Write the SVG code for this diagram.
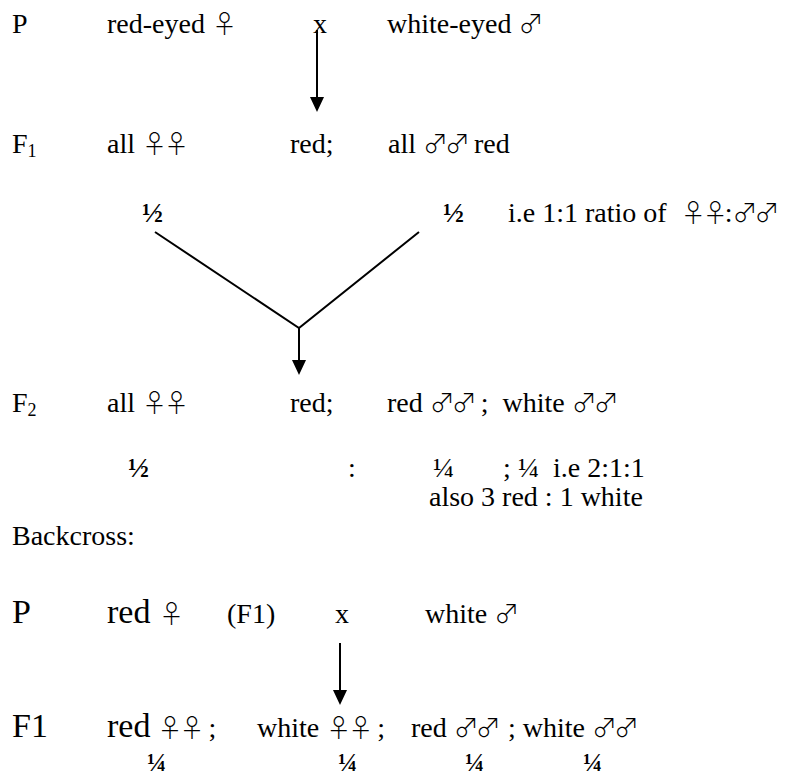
<svg xmlns="http://www.w3.org/2000/svg" width="786" height="779" viewBox="0 0 786 779">
<style>
text{font-family:"Liberation Serif","Times New Roman",serif;font-size:28px;fill:#000}
.b{font-weight:bold}
.big{font-size:34px}
.sub{font-size:18px}
.q{font-size:26px}
.sym{font-family:"Noto Sans CJK JP","DejaVu Sans",sans-serif;font-size:25px;font-weight:300;letter-spacing:-3px}
.ln{stroke:#000;stroke-width:2;fill:none}
</style>
<rect width="786" height="779" fill="#fff"/>
<g id="row-p1">
<text x="12" y="33">P</text>
<text x="107" y="33">red-eyed <tspan class="sym">♀</tspan></text>
<text x="313" y="33">x</text>
<text x="387" y="33">white-eyed <tspan class="sym">♂</tspan></text>
</g>
<g id="row-f1">
<text x="12" y="153">F<tspan class="sub" dy="4">1</tspan></text>
<text x="107" y="153">all <tspan class="sym">♀♀</tspan></text>
<text x="290" y="153">red;</text>
<text x="388" y="153">all <tspan class="sym">♂♂</tspan> red</text>
</g>
<g id="row-half">
<text class="b" x="142" y="222">½</text>
<text class="b" x="443" y="222">½</text>
<text x="508" y="222" xml:space="preserve">i.e 1:1 ratio of  <tspan class="sym">♀♀</tspan>:<tspan class="sym">♂♂</tspan></text>
</g>
<g id="row-f2">
<text x="12" y="412">F<tspan class="sub" dy="4">2</tspan></text>
<text x="107" y="412">all <tspan class="sym">♀♀</tspan></text>
<text x="290" y="412">red;</text>
<text x="387" y="412" xml:space="preserve">red <tspan class="sym">♂♂</tspan> ;  white <tspan class="sym">♂♂</tspan></text>
</g>
<g id="row-ratio">
<text class="b" x="128" y="477">½</text>
<text x="348" y="477">:</text>
<text x="433" y="477">¼</text>
<text x="503" y="477">;</text>
<text x="518" y="477" xml:space="preserve">¼  i.e 2:1:1</text>
<text x="429" y="506">also 3 red : 1 white</text>
</g>
<g id="backcross">
<text x="12" y="545">Backcross:</text>
</g>
<g id="row-p2">
<text class="big" x="12" y="623">P</text>
<text class="big" x="107" y="623">red <tspan class="sym">♀</tspan></text>
<text x="227" y="623">(F1)</text>
<text x="335" y="623">x</text>
<text x="425" y="623">white <tspan class="sym">♂</tspan></text>
</g>
<g id="row-f1b">
<text class="big" x="12" y="737">F1</text>
<text x="107" y="737" xml:space="preserve"><tspan class="big">red</tspan> <tspan class="sym">♀♀</tspan> ;</text>
<text x="257" y="737" xml:space="preserve">white <tspan class="sym">♀♀</tspan> ;</text>
<text x="411" y="737">red <tspan class="sym">♂♂</tspan></text>
<text x="508" y="737">; white <tspan class="sym">♂♂</tspan></text>
</g>
<g id="row-quarter">
<text class="b q" x="147" y="771">¼</text>
<text class="b q" x="338" y="771">¼</text>
<text class="b q" x="465" y="771">¼</text>
<text class="b q" x="583" y="771">¼</text>
</g>
<g id="connectors">
<line class="ln" x1="317" y1="30" x2="317" y2="98"/>
<polygon points="310,97 324,97 317,112"/>
<polyline class="ln" points="155,232 299,328 419,232"/>
<line class="ln" x1="299" y1="328" x2="299" y2="361"/>
<polygon points="292,360 306,360 299,375"/>
<line class="ln" x1="340" y1="643" x2="340" y2="691"/>
<polygon points="333,690 347,690 340,705"/>
</g>
</svg>
